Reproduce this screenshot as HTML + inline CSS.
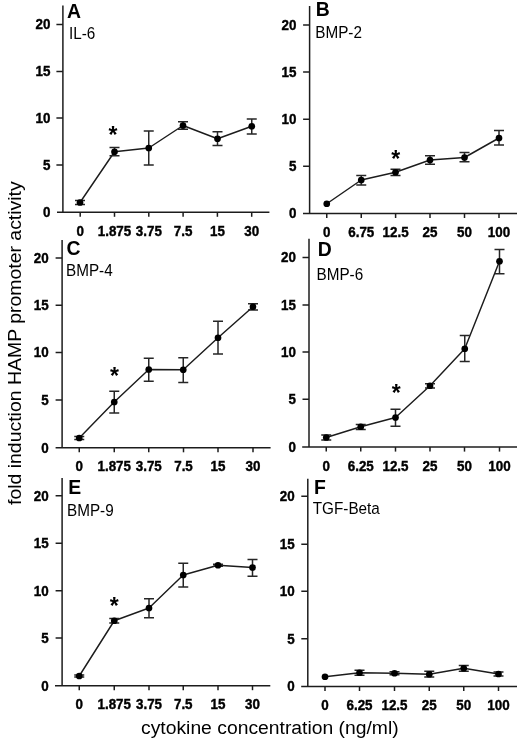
<!DOCTYPE html>
<html lang="en"><head><meta charset="utf-8"><title>Figure</title>
<style>html,body{margin:0;padding:0;background:#fff}body{width:520px;height:743px;overflow:hidden}svg{display:block;will-change:transform}text{font-family:"Liberation Sans",Arial,Helvetica,sans-serif;fill:#000}</style></head><body>
<svg width="520" height="743" viewBox="0 0 520 743">
<g stroke="#1c1c1c" fill="none" stroke-width="1.5">
<path d="M62.9,5.5V212.3"/>
<path d="M57,212.3H269.4"/>
<path d="M56.4,24.5H62.9"/>
<path d="M56.4,71.5H62.9"/>
<path d="M56.4,118H62.9"/>
<path d="M56.4,165H62.9"/>
<path d="M80.2,212.3v4.5"/>
<path d="M114.5,212.3v4.5"/>
<path d="M148.8,212.3v4.5"/>
<path d="M183.1,212.3v4.5"/>
<path d="M217.4,212.3v4.5"/>
<path d="M251.7,212.3v4.5"/>
</g>
<path d="M80,202.5 L114.5,151.75 L148.75,148 L183,125.5 L217.5,138.75 L251.75,126.25" stroke="#1c1c1c" stroke-width="1.45" fill="none" stroke-linejoin="round"/>
<g stroke="#262626" stroke-width="1.5" fill="none">
<path d="M80,200.5V204.5M75.0,200.5h10.0M75.0,204.5h10.0"/>
<path d="M114.5,147.5V155.75M109.5,147.5h10.0M109.5,155.75h10.0"/>
<path d="M148.75,131V165M143.75,131h10.0M143.75,165h10.0"/>
<path d="M183,121.75V129.25M178.0,121.75h10.0M178.0,129.25h10.0"/>
<path d="M217.5,131.75V145.5M212.5,131.75h10.0M212.5,145.5h10.0"/>
<path d="M251.75,119V134M246.75,119h10.0M246.75,134h10.0"/>
</g>
<g fill="#000">
<circle cx="80" cy="202.5" r="3.35"/>
<circle cx="114.5" cy="151.75" r="3.35"/>
<circle cx="148.75" cy="148" r="3.35"/>
<circle cx="183" cy="125.5" r="3.35"/>
<circle cx="217.5" cy="138.75" r="3.35"/>
<circle cx="251.75" cy="126.25" r="3.35"/>
</g>
<text transform="translate(50.50,29.40) scale(0.95,1)" font-size="14.1" font-weight="bold" text-anchor="end" stroke="#000" stroke-width="0.4">20</text>
<text transform="translate(50.50,76.40) scale(0.95,1)" font-size="14.1" font-weight="bold" text-anchor="end" stroke="#000" stroke-width="0.4">15</text>
<text transform="translate(50.50,122.90) scale(0.95,1)" font-size="14.1" font-weight="bold" text-anchor="end" stroke="#000" stroke-width="0.4">10</text>
<text transform="translate(50.50,169.90) scale(0.95,1)" font-size="14.1" font-weight="bold" text-anchor="end" stroke="#000" stroke-width="0.4">5</text>
<text transform="translate(50.50,217.20) scale(0.95,1)" font-size="14.1" font-weight="bold" text-anchor="end" stroke="#000" stroke-width="0.4">0</text>
<text transform="translate(80.20,235.75) scale(0.95,1)" font-size="14.1" font-weight="bold" text-anchor="middle" stroke="#000" stroke-width="0.4">0</text>
<text transform="translate(114.50,235.75) scale(0.95,1)" font-size="14.1" font-weight="bold" text-anchor="middle" stroke="#000" stroke-width="0.4">1.875</text>
<text transform="translate(148.80,235.75) scale(0.95,1)" font-size="14.1" font-weight="bold" text-anchor="middle" stroke="#000" stroke-width="0.4">3.75</text>
<text transform="translate(183.10,235.75) scale(0.95,1)" font-size="14.1" font-weight="bold" text-anchor="middle" stroke="#000" stroke-width="0.4">7.5</text>
<text transform="translate(217.40,235.75) scale(0.95,1)" font-size="14.1" font-weight="bold" text-anchor="middle" stroke="#000" stroke-width="0.4">15</text>
<text transform="translate(251.70,235.75) scale(0.95,1)" font-size="14.1" font-weight="bold" text-anchor="middle" stroke="#000" stroke-width="0.4">30</text>
<text transform="translate(67.00,17.50) scale(0.97,1)" font-size="20" font-weight="bold" text-anchor="start">A</text>
<text transform="translate(69.00,38.75) scale(0.98,1)" font-size="15.6" font-weight="normal" text-anchor="start">IL-6</text>
<text transform="translate(113.00,142.90) scale(1,1)" font-size="23" font-weight="bold" text-anchor="middle">*</text>
<g stroke="#1c1c1c" fill="none" stroke-width="1.5">
<path d="M309.6,6V213.5"/>
<path d="M303,213.5H517"/>
<path d="M303.1,25H309.6"/>
<path d="M303.1,72H309.6"/>
<path d="M303.1,119.25H309.6"/>
<path d="M303.1,166.25H309.6"/>
<path d="M326.75,213.5v4.5"/>
<path d="M361.25,213.5v4.5"/>
<path d="M395.6,213.5v4.5"/>
<path d="M430,213.5v4.5"/>
<path d="M464.5,213.5v4.5"/>
<path d="M499,213.5v4.5"/>
</g>
<path d="M326.75,203.75 L361.25,180 L395.5,172.25 L430,160 L464.5,157.5 L499,138" stroke="#1c1c1c" stroke-width="1.45" fill="none" stroke-linejoin="round"/>
<g stroke="#262626" stroke-width="1.5" fill="none">
<path d="M361.25,175.5V185M356.25,175.5h10.0M356.25,185h10.0"/>
<path d="M395.5,169.25V175.5M390.5,169.25h10.0M390.5,175.5h10.0"/>
<path d="M430,155.75V164.25M425.0,155.75h10.0M425.0,164.25h10.0"/>
<path d="M464.5,152.5V161.75M459.5,152.5h10.0M459.5,161.75h10.0"/>
<path d="M499,130.5V145M494.0,130.5h10.0M494.0,145h10.0"/>
</g>
<g fill="#000">
<circle cx="326.75" cy="203.75" r="3.35"/>
<circle cx="361.25" cy="180" r="3.35"/>
<circle cx="395.5" cy="172.25" r="3.35"/>
<circle cx="430" cy="160" r="3.35"/>
<circle cx="464.5" cy="157.5" r="3.35"/>
<circle cx="499" cy="138" r="3.35"/>
</g>
<text transform="translate(296.50,29.90) scale(0.95,1)" font-size="14.1" font-weight="bold" text-anchor="end" stroke="#000" stroke-width="0.4">20</text>
<text transform="translate(296.50,76.90) scale(0.95,1)" font-size="14.1" font-weight="bold" text-anchor="end" stroke="#000" stroke-width="0.4">15</text>
<text transform="translate(296.50,124.15) scale(0.95,1)" font-size="14.1" font-weight="bold" text-anchor="end" stroke="#000" stroke-width="0.4">10</text>
<text transform="translate(296.50,171.15) scale(0.95,1)" font-size="14.1" font-weight="bold" text-anchor="end" stroke="#000" stroke-width="0.4">5</text>
<text transform="translate(296.50,218.40) scale(0.95,1)" font-size="14.1" font-weight="bold" text-anchor="end" stroke="#000" stroke-width="0.4">0</text>
<text transform="translate(326.75,237.10) scale(0.95,1)" font-size="14.1" font-weight="bold" text-anchor="middle" stroke="#000" stroke-width="0.4">0</text>
<text transform="translate(361.25,237.10) scale(0.95,1)" font-size="14.1" font-weight="bold" text-anchor="middle" stroke="#000" stroke-width="0.4">6.75</text>
<text transform="translate(395.60,237.10) scale(0.95,1)" font-size="14.1" font-weight="bold" text-anchor="middle" stroke="#000" stroke-width="0.4">12.5</text>
<text transform="translate(430.00,237.10) scale(0.95,1)" font-size="14.1" font-weight="bold" text-anchor="middle" stroke="#000" stroke-width="0.4">25</text>
<text transform="translate(464.50,237.10) scale(0.95,1)" font-size="14.1" font-weight="bold" text-anchor="middle" stroke="#000" stroke-width="0.4">50</text>
<text transform="translate(499.00,237.10) scale(0.95,1)" font-size="14.1" font-weight="bold" text-anchor="middle" stroke="#000" stroke-width="0.4">100</text>
<text transform="translate(315.75,15.50) scale(0.97,1)" font-size="20" font-weight="bold" text-anchor="start">B</text>
<text transform="translate(315.25,38.00) scale(0.98,1)" font-size="15.6" font-weight="normal" text-anchor="start">BMP-2</text>
<text transform="translate(395.75,167.15) scale(1,1)" font-size="23" font-weight="bold" text-anchor="middle">*</text>
<g stroke="#1c1c1c" fill="none" stroke-width="1.5">
<path d="M62.1,240V447.8"/>
<path d="M55.6,447.8H270.6"/>
<path d="M55.6,258H62.1"/>
<path d="M55.6,305.25H62.1"/>
<path d="M55.6,352.5H62.1"/>
<path d="M55.6,400H62.1"/>
<path d="M79.25,447.8v4.5"/>
<path d="M114.25,447.8v4.5"/>
<path d="M148.75,447.8v4.5"/>
<path d="M183.5,447.8v4.5"/>
<path d="M218,447.8v4.5"/>
<path d="M253,447.8v4.5"/>
</g>
<path d="M79.25,438 L114.25,402 L148.75,369.5 L183.25,369.75 L218,337.75 L253,306.75" stroke="#1c1c1c" stroke-width="1.45" fill="none" stroke-linejoin="round"/>
<g stroke="#262626" stroke-width="1.5" fill="none">
<path d="M79.25,436.5V439.5M74.25,436.5h10.0M74.25,439.5h10.0"/>
<path d="M114.25,391.25V413M109.25,391.25h10.0M109.25,413h10.0"/>
<path d="M148.75,358.25V381.25M143.75,358.25h10.0M143.75,381.25h10.0"/>
<path d="M183.25,357.75V382.5M178.25,357.75h10.0M178.25,382.5h10.0"/>
<path d="M218,321.25V354M213.0,321.25h10.0M213.0,354h10.0"/>
<path d="M253,303.75V310M248.0,303.75h10.0M248.0,310h10.0"/>
</g>
<g fill="#000">
<circle cx="79.25" cy="438" r="3.35"/>
<circle cx="114.25" cy="402" r="3.35"/>
<circle cx="148.75" cy="369.5" r="3.35"/>
<circle cx="183.25" cy="369.75" r="3.35"/>
<circle cx="218" cy="337.75" r="3.35"/>
<circle cx="253" cy="306.75" r="3.35"/>
</g>
<text transform="translate(48.60,262.90) scale(0.95,1)" font-size="14.1" font-weight="bold" text-anchor="end" stroke="#000" stroke-width="0.4">20</text>
<text transform="translate(48.60,310.15) scale(0.95,1)" font-size="14.1" font-weight="bold" text-anchor="end" stroke="#000" stroke-width="0.4">15</text>
<text transform="translate(48.60,357.40) scale(0.95,1)" font-size="14.1" font-weight="bold" text-anchor="end" stroke="#000" stroke-width="0.4">10</text>
<text transform="translate(48.60,404.90) scale(0.95,1)" font-size="14.1" font-weight="bold" text-anchor="end" stroke="#000" stroke-width="0.4">5</text>
<text transform="translate(48.60,452.70) scale(0.95,1)" font-size="14.1" font-weight="bold" text-anchor="end" stroke="#000" stroke-width="0.4">0</text>
<text transform="translate(79.25,471.25) scale(0.95,1)" font-size="14.1" font-weight="bold" text-anchor="middle" stroke="#000" stroke-width="0.4">0</text>
<text transform="translate(114.25,471.25) scale(0.95,1)" font-size="14.1" font-weight="bold" text-anchor="middle" stroke="#000" stroke-width="0.4">1.875</text>
<text transform="translate(148.75,471.25) scale(0.95,1)" font-size="14.1" font-weight="bold" text-anchor="middle" stroke="#000" stroke-width="0.4">3.75</text>
<text transform="translate(183.50,471.25) scale(0.95,1)" font-size="14.1" font-weight="bold" text-anchor="middle" stroke="#000" stroke-width="0.4">7.5</text>
<text transform="translate(218.00,471.25) scale(0.95,1)" font-size="14.1" font-weight="bold" text-anchor="middle" stroke="#000" stroke-width="0.4">15</text>
<text transform="translate(253.00,471.25) scale(0.95,1)" font-size="14.1" font-weight="bold" text-anchor="middle" stroke="#000" stroke-width="0.4">30</text>
<text transform="translate(66.50,254.50) scale(0.97,1)" font-size="20" font-weight="bold" text-anchor="start">C</text>
<text transform="translate(66.00,275.50) scale(0.98,1)" font-size="15.6" font-weight="normal" text-anchor="start">BMP-4</text>
<text transform="translate(114.50,383.65) scale(1,1)" font-size="23" font-weight="bold" text-anchor="middle">*</text>
<g stroke="#1c1c1c" fill="none" stroke-width="1.5">
<path d="M309,238.75V447.1"/>
<path d="M302.2,447.1H517"/>
<path d="M302.5,257.5H309"/>
<path d="M302.5,305H309"/>
<path d="M302.5,352H309"/>
<path d="M302.5,399.25H309"/>
<path d="M326.25,447.1v4.5"/>
<path d="M360.75,447.1v4.5"/>
<path d="M395.5,447.1v4.5"/>
<path d="M430,447.1v4.5"/>
<path d="M464.5,447.1v4.5"/>
<path d="M499.5,447.1v4.5"/>
</g>
<path d="M326.25,437.5 L360.75,426.75 L395.5,417.5 L430,385.75 L464.75,348.75 L499.5,261.25" stroke="#1c1c1c" stroke-width="1.45" fill="none" stroke-linejoin="round"/>
<g stroke="#262626" stroke-width="1.5" fill="none">
<path d="M326.25,435V440M321.25,435h10.0M321.25,440h10.0"/>
<path d="M360.75,424.5V429.5M355.75,424.5h10.0M355.75,429.5h10.0"/>
<path d="M395.5,409.25V426.25M390.5,409.25h10.0M390.5,426.25h10.0"/>
<path d="M430,383.75V388M425.0,383.75h10.0M425.0,388h10.0"/>
<path d="M464.75,335.5V361.5M459.75,335.5h10.0M459.75,361.5h10.0"/>
<path d="M499.5,249.5V273.75M494.5,249.5h10.0M494.5,273.75h10.0"/>
</g>
<g fill="#000">
<circle cx="326.25" cy="437.5" r="3.35"/>
<circle cx="360.75" cy="426.75" r="3.35"/>
<circle cx="395.5" cy="417.5" r="3.35"/>
<circle cx="430" cy="385.75" r="3.35"/>
<circle cx="464.75" cy="348.75" r="3.35"/>
<circle cx="499.5" cy="261.25" r="3.35"/>
</g>
<text transform="translate(295.90,262.40) scale(0.95,1)" font-size="14.1" font-weight="bold" text-anchor="end" stroke="#000" stroke-width="0.4">20</text>
<text transform="translate(295.90,309.90) scale(0.95,1)" font-size="14.1" font-weight="bold" text-anchor="end" stroke="#000" stroke-width="0.4">15</text>
<text transform="translate(295.90,356.90) scale(0.95,1)" font-size="14.1" font-weight="bold" text-anchor="end" stroke="#000" stroke-width="0.4">10</text>
<text transform="translate(295.90,404.15) scale(0.95,1)" font-size="14.1" font-weight="bold" text-anchor="end" stroke="#000" stroke-width="0.4">5</text>
<text transform="translate(295.90,452.00) scale(0.95,1)" font-size="14.1" font-weight="bold" text-anchor="end" stroke="#000" stroke-width="0.4">0</text>
<text transform="translate(326.25,470.60) scale(0.95,1)" font-size="14.1" font-weight="bold" text-anchor="middle" stroke="#000" stroke-width="0.4">0</text>
<text transform="translate(360.75,470.60) scale(0.95,1)" font-size="14.1" font-weight="bold" text-anchor="middle" stroke="#000" stroke-width="0.4">6.25</text>
<text transform="translate(395.50,470.60) scale(0.95,1)" font-size="14.1" font-weight="bold" text-anchor="middle" stroke="#000" stroke-width="0.4">12.5</text>
<text transform="translate(430.00,470.60) scale(0.95,1)" font-size="14.1" font-weight="bold" text-anchor="middle" stroke="#000" stroke-width="0.4">25</text>
<text transform="translate(464.50,470.60) scale(0.95,1)" font-size="14.1" font-weight="bold" text-anchor="middle" stroke="#000" stroke-width="0.4">50</text>
<text transform="translate(499.50,470.60) scale(0.95,1)" font-size="14.1" font-weight="bold" text-anchor="middle" stroke="#000" stroke-width="0.4">100</text>
<text transform="translate(317.75,256.25) scale(0.97,1)" font-size="20" font-weight="bold" text-anchor="start">D</text>
<text transform="translate(316.50,280.00) scale(0.98,1)" font-size="15.6" font-weight="normal" text-anchor="start">BMP-6</text>
<text transform="translate(396.25,400.90) scale(1,1)" font-size="23" font-weight="bold" text-anchor="middle">*</text>
<g stroke="#1c1c1c" fill="none" stroke-width="1.5">
<path d="M62.1,478V685.7"/>
<path d="M55,685.7H270.3"/>
<path d="M55.6,495.75H62.1"/>
<path d="M55.6,543.25H62.1"/>
<path d="M55.6,590.75H62.1"/>
<path d="M55.6,638H62.1"/>
<path d="M79.25,685.7v4.5"/>
<path d="M114.25,685.7v4.5"/>
<path d="M149,685.7v4.5"/>
<path d="M183.25,685.7v4.5"/>
<path d="M218,685.7v4.5"/>
<path d="M252.5,685.7v4.5"/>
</g>
<path d="M79.25,676 L114.25,620.75 L149,608 L183.25,575 L218,565.25 L252.5,567.5" stroke="#1c1c1c" stroke-width="1.45" fill="none" stroke-linejoin="round"/>
<g stroke="#262626" stroke-width="1.5" fill="none">
<path d="M79.25,675V677M74.25,675h10.0M74.25,677h10.0"/>
<path d="M114.25,618.5V623M109.25,618.5h10.0M109.25,623h10.0"/>
<path d="M149,598.75V617.75M144.0,598.75h10.0M144.0,617.75h10.0"/>
<path d="M183.25,563.25V587M178.25,563.25h10.0M178.25,587h10.0"/>
<path d="M218,564.25V566.25M213.0,564.25h10.0M213.0,566.25h10.0"/>
<path d="M252.5,559.5V576.25M247.5,559.5h10.0M247.5,576.25h10.0"/>
</g>
<g fill="#000">
<circle cx="79.25" cy="676" r="3.35"/>
<circle cx="114.25" cy="620.75" r="3.35"/>
<circle cx="149" cy="608" r="3.35"/>
<circle cx="183.25" cy="575" r="3.35"/>
<circle cx="218" cy="565.25" r="3.35"/>
<circle cx="252.5" cy="567.5" r="3.35"/>
</g>
<text transform="translate(48.60,500.65) scale(0.95,1)" font-size="14.1" font-weight="bold" text-anchor="end" stroke="#000" stroke-width="0.4">20</text>
<text transform="translate(48.60,548.15) scale(0.95,1)" font-size="14.1" font-weight="bold" text-anchor="end" stroke="#000" stroke-width="0.4">15</text>
<text transform="translate(48.60,595.65) scale(0.95,1)" font-size="14.1" font-weight="bold" text-anchor="end" stroke="#000" stroke-width="0.4">10</text>
<text transform="translate(48.60,642.90) scale(0.95,1)" font-size="14.1" font-weight="bold" text-anchor="end" stroke="#000" stroke-width="0.4">5</text>
<text transform="translate(48.60,690.60) scale(0.95,1)" font-size="14.1" font-weight="bold" text-anchor="end" stroke="#000" stroke-width="0.4">0</text>
<text transform="translate(79.25,709.40) scale(0.95,1)" font-size="14.1" font-weight="bold" text-anchor="middle" stroke="#000" stroke-width="0.4">0</text>
<text transform="translate(114.25,709.40) scale(0.95,1)" font-size="14.1" font-weight="bold" text-anchor="middle" stroke="#000" stroke-width="0.4">1.875</text>
<text transform="translate(149.00,709.40) scale(0.95,1)" font-size="14.1" font-weight="bold" text-anchor="middle" stroke="#000" stroke-width="0.4">3.75</text>
<text transform="translate(183.25,709.40) scale(0.95,1)" font-size="14.1" font-weight="bold" text-anchor="middle" stroke="#000" stroke-width="0.4">7.5</text>
<text transform="translate(218.00,709.40) scale(0.95,1)" font-size="14.1" font-weight="bold" text-anchor="middle" stroke="#000" stroke-width="0.4">15</text>
<text transform="translate(252.50,709.40) scale(0.95,1)" font-size="14.1" font-weight="bold" text-anchor="middle" stroke="#000" stroke-width="0.4">30</text>
<text transform="translate(68.25,493.75) scale(0.97,1)" font-size="20" font-weight="bold" text-anchor="start">E</text>
<text transform="translate(67.00,515.50) scale(0.98,1)" font-size="15.6" font-weight="normal" text-anchor="start">BMP-9</text>
<text transform="translate(114.25,613.65) scale(1,1)" font-size="23" font-weight="bold" text-anchor="middle">*</text>
<g stroke="#1c1c1c" fill="none" stroke-width="1.5">
<path d="M307.8,478.75V686.5"/>
<path d="M301.2,686.5H517"/>
<path d="M301.3,496.25H307.8"/>
<path d="M301.3,544.25H307.8"/>
<path d="M301.3,591.25H307.8"/>
<path d="M301.3,638.75H307.8"/>
<path d="M325,686.5v4.5"/>
<path d="M359.5,686.5v4.5"/>
<path d="M394.5,686.5v4.5"/>
<path d="M429.25,686.5v4.5"/>
<path d="M463.75,686.5v4.5"/>
<path d="M498.5,686.5v4.5"/>
</g>
<path d="M325,676.75 L359.5,672.75 L394.5,673.25 L429.25,674.25 L463.75,668.25 L498.5,674" stroke="#1c1c1c" stroke-width="1.45" fill="none" stroke-linejoin="round"/>
<g stroke="#262626" stroke-width="1.5" fill="none">
<path d="M359.5,670.25V675.25M354.5,670.25h10.0M354.5,675.25h10.0"/>
<path d="M394.5,671.75V674.75M389.5,671.75h10.0M389.5,674.75h10.0"/>
<path d="M429.25,671.25V677M424.25,671.25h10.0M424.25,677h10.0"/>
<path d="M463.75,665.5V671.25M458.75,665.5h10.0M458.75,671.25h10.0"/>
<path d="M498.5,672V676M493.5,672h10.0M493.5,676h10.0"/>
</g>
<g fill="#000">
<circle cx="325" cy="676.75" r="3.35"/>
<circle cx="359.5" cy="672.75" r="3.35"/>
<circle cx="394.5" cy="673.25" r="3.35"/>
<circle cx="429.25" cy="674.25" r="3.35"/>
<circle cx="463.75" cy="668.25" r="3.35"/>
<circle cx="498.5" cy="674" r="3.35"/>
</g>
<text transform="translate(294.70,501.15) scale(0.95,1)" font-size="14.1" font-weight="bold" text-anchor="end" stroke="#000" stroke-width="0.4">20</text>
<text transform="translate(294.70,549.15) scale(0.95,1)" font-size="14.1" font-weight="bold" text-anchor="end" stroke="#000" stroke-width="0.4">15</text>
<text transform="translate(294.70,596.15) scale(0.95,1)" font-size="14.1" font-weight="bold" text-anchor="end" stroke="#000" stroke-width="0.4">10</text>
<text transform="translate(294.70,643.65) scale(0.95,1)" font-size="14.1" font-weight="bold" text-anchor="end" stroke="#000" stroke-width="0.4">5</text>
<text transform="translate(294.70,691.40) scale(0.95,1)" font-size="14.1" font-weight="bold" text-anchor="end" stroke="#000" stroke-width="0.4">0</text>
<text transform="translate(325.00,710.10) scale(0.95,1)" font-size="14.1" font-weight="bold" text-anchor="middle" stroke="#000" stroke-width="0.4">0</text>
<text transform="translate(359.50,710.10) scale(0.95,1)" font-size="14.1" font-weight="bold" text-anchor="middle" stroke="#000" stroke-width="0.4">6.25</text>
<text transform="translate(394.50,710.10) scale(0.95,1)" font-size="14.1" font-weight="bold" text-anchor="middle" stroke="#000" stroke-width="0.4">12.5</text>
<text transform="translate(429.25,710.10) scale(0.95,1)" font-size="14.1" font-weight="bold" text-anchor="middle" stroke="#000" stroke-width="0.4">25</text>
<text transform="translate(463.75,710.10) scale(0.95,1)" font-size="14.1" font-weight="bold" text-anchor="middle" stroke="#000" stroke-width="0.4">50</text>
<text transform="translate(498.50,710.10) scale(0.95,1)" font-size="14.1" font-weight="bold" text-anchor="middle" stroke="#000" stroke-width="0.4">100</text>
<text transform="translate(314.00,494.25) scale(0.97,1)" font-size="20" font-weight="bold" text-anchor="start">F</text>
<text transform="translate(312.75,514.25) scale(0.98,1)" font-size="15.6" font-weight="normal" text-anchor="start">TGF-Beta</text>
<text transform="translate(141.00,734.00) scale(1.017,1)" font-size="19" font-weight="normal" text-anchor="start">cytokine concentration (ng/ml)</text>
<text transform="translate(21.25,505) rotate(-90) scale(1.0231,1)" font-size="19">fold induction HAMP promoter activity</text>
</svg></body></html>
